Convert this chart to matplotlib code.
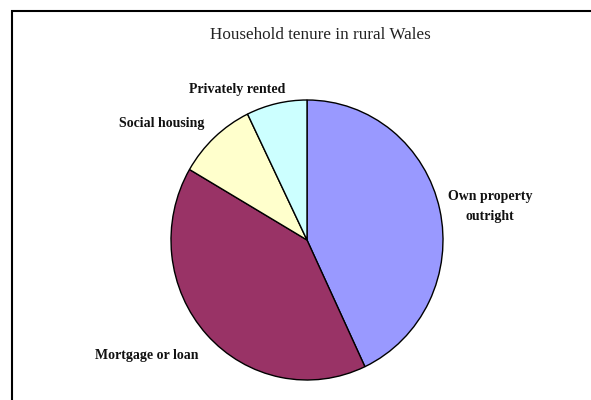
import matplotlib.pyplot as plt
from matplotlib.patches import Rectangle

# data (percent of households)
labels = ['Own property\noutright', 'Mortgage or loan', 'Social housing', 'Privately rented']
values = [43.0, 40.4, 9.4, 7.2]
colors = ['#9999FF', '#993366', '#FFFFCC', '#CCFFFF']
title = 'Household tenure in rural Wales'

W, H = 591, 400
fig = plt.figure(figsize=(W / 100, H / 100), dpi=100)
fig.patch.set_facecolor('white')

# chart frame (right and bottom edges run off the image)
fig.add_artist(Rectangle((12 / W, -0.05), 1.0, (H - 11) / H + 0.05,
                         transform=fig.transFigure, fill=False,
                         edgecolor='black', linewidth=1.5))

# pie axes: centre ~(307, 240) px, radii ~136 x 140 px
cx, cy, rx, ry = 307, 240, 136, 140
ax = fig.add_axes([(cx - rx) / W, (H - cy - ry) / H, 2 * rx / W, 2 * ry / H])
ax.pie(values, colors=colors, startangle=90, counterclock=False,
       wedgeprops=dict(edgecolor='black', linewidth=1.0))
ax.set_aspect('auto')
ax.set_xlim(-1, 1)
ax.set_ylim(-1, 1)
ax.axis('off')

serif = ['Liberation Serif', 'DejaVu Serif']
fig.text(320 / W, 1 - 35 / H, title, ha='center', va='center',
         fontsize=12.3, family=serif, color='#222222')

label_pos = [(490, 207), (147, 356), (162, 124), (237, 89)]
for lab, (x, y) in zip(labels, label_pos):
    fig.text(x / W, 1 - y / H, lab, ha='center', va='center', fontsize=10,
             fontweight='bold', family=serif, color='#111111',
             linespacing=1.7)

fig.savefig('out.png', dpi=100)
